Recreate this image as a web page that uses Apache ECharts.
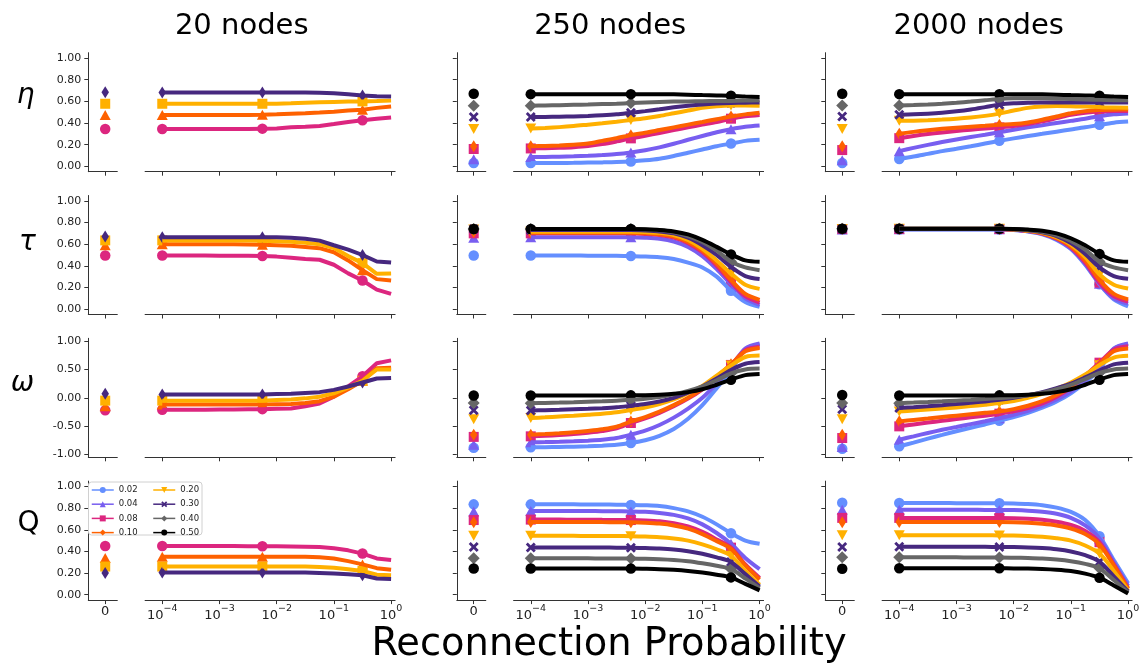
<!DOCTYPE html>
<html><head><meta charset="utf-8">
<script src="https://cdn.jsdelivr.net/npm/echarts@6/dist/echarts.min.js"></script>
<style>html,body{margin:0;padding:0;background:#fff}#c{width:1147px;height:668px}</style>
</head><body><div id="c"></div>
<script>
// ---------------- DATA ----------------
const P = [1e-4,1.778e-4,3.162e-4,5.623e-4,1e-3,1.778e-3,3.162e-3,5.623e-3,1e-2,1.778e-2,3.162e-2,5.623e-2,0.1,0.1778,0.3162,0.5623,1];
const LEVELS = ['0.02','0.04','0.08','0.10','0.20','0.30','0.40','0.50'];
const LEVELS_20 = [2,3,4,5];
const LEVELS_BIG = [0,1,2,3,4,5,6,7];
const COL_TITLES = ['20 nodes','250 nodes','2000 nodes'];
const ROW_LABELS = ['η','τ','ω','Q'];
const X_LABEL = 'Reconnection Probability';
const Y_TICKS_UNIT = [0,0.2,0.4,0.6,0.8,1.0];
const Y_TICKS_OMEGA = [-1,-0.5,0,0.5,1];
const X_TICKS = [1e-4,1e-3,1e-2,1e-1,1];
const X_ZERO_TICK = [0];

const ETA_20 = [
 [0.345,0.345,0.345,0.345,0.345,0.345,0.345,0.348,0.35,0.36,0.365,0.372,0.39,0.41,0.425,0.44,0.45],
 [0.475,0.475,0.475,0.475,0.475,0.475,0.475,0.476,0.48,0.485,0.49,0.497,0.505,0.515,0.523,0.54,0.553],
 [0.578,0.578,0.578,0.578,0.578,0.578,0.578,0.578,0.578,0.582,0.588,0.592,0.595,0.598,0.6,0.603,0.607],
 [0.683,0.683,0.683,0.683,0.683,0.683,0.683,0.683,0.683,0.683,0.683,0.68,0.675,0.665,0.655,0.648,0.645]];
const ETA_20_ZERO = [0.345,0.475,0.578,0.685];
const TAU_20 = [
 [0.495,0.495,0.495,0.495,0.494,0.493,0.492,0.49,0.485,0.475,0.462,0.456,0.41,0.33,0.264,0.18,0.14],
 [0.6,0.6,0.6,0.6,0.6,0.6,0.598,0.595,0.59,0.585,0.575,0.563,0.525,0.45,0.36,0.277,0.265],
 [0.635,0.635,0.635,0.635,0.635,0.635,0.633,0.632,0.628,0.622,0.613,0.6,0.565,0.49,0.425,0.326,0.33],
 [0.665,0.665,0.665,0.665,0.665,0.665,0.665,0.665,0.663,0.66,0.65,0.633,0.59,0.55,0.5,0.44,0.43]];
const TAU_20_ZERO = [0.495,0.59,0.635,0.67];
const OMEGA_20 = [
 [-0.21,-0.21,-0.21,-0.21,-0.205,-0.205,-0.2,-0.2,-0.195,-0.19,-0.15,-0.1,0.02,0.2,0.38,0.61,0.66],
 [-0.12,-0.12,-0.12,-0.12,-0.12,-0.12,-0.12,-0.12,-0.115,-0.11,-0.09,-0.06,0.02,0.15,0.3,0.52,0.53],
 [-0.05,-0.05,-0.05,-0.05,-0.05,-0.05,-0.05,-0.05,-0.04,-0.03,-0.01,0.02,0.08,0.18,0.3,0.5,0.5],
 [0.06,0.06,0.06,0.06,0.06,0.06,0.06,0.06,0.065,0.07,0.085,0.1,0.14,0.2,0.27,0.34,0.35]];
const OMEGA_20_ZERO = [-0.22,-0.15,-0.05,0.07];
const Q_20 = [
 [0.45,0.45,0.45,0.45,0.45,0.45,0.448,0.448,0.447,0.446,0.443,0.44,0.43,0.41,0.38,0.335,0.32],
 [0.35,0.35,0.35,0.35,0.35,0.35,0.35,0.35,0.35,0.35,0.35,0.345,0.335,0.31,0.28,0.245,0.23],
 [0.26,0.26,0.26,0.26,0.26,0.26,0.26,0.26,0.26,0.26,0.26,0.255,0.25,0.235,0.22,0.185,0.18],
 [0.205,0.205,0.205,0.205,0.205,0.205,0.205,0.205,0.205,0.205,0.205,0.2,0.195,0.19,0.18,0.15,0.145]];
const Q_20_ZERO = [0.45,0.34,0.26,0.2];

const ETA_250 = [
 [0.03,0.03,0.031,0.032,0.034,0.036,0.039,0.045,0.055,0.07,0.095,0.125,0.155,0.185,0.21,0.235,0.245],
 [0.086,0.087,0.089,0.092,0.097,0.104,0.113,0.128,0.148,0.175,0.208,0.245,0.28,0.315,0.343,0.365,0.377],
 [0.165,0.167,0.171,0.177,0.187,0.205,0.23,0.258,0.282,0.308,0.335,0.36,0.385,0.41,0.44,0.462,0.475],
 [0.185,0.188,0.193,0.2,0.21,0.235,0.26,0.288,0.31,0.335,0.36,0.385,0.41,0.435,0.46,0.48,0.495],
 [0.35,0.355,0.362,0.372,0.385,0.398,0.412,0.428,0.445,0.465,0.49,0.515,0.54,0.555,0.562,0.562,0.56],
 [0.455,0.456,0.458,0.461,0.465,0.471,0.48,0.495,0.51,0.527,0.545,0.56,0.572,0.58,0.585,0.588,0.59],
 [0.56,0.562,0.565,0.568,0.571,0.575,0.579,0.584,0.589,0.594,0.598,0.6,0.602,0.603,0.604,0.607,0.61],
 [0.667,0.667,0.667,0.667,0.667,0.667,0.667,0.667,0.667,0.667,0.665,0.662,0.658,0.655,0.652,0.645,0.64]];
const ETA_250_ZERO = [0.03,0.065,0.16,0.185,0.345,0.455,0.56,0.67];
const TAU_250 = [
 [0.495,0.495,0.495,0.495,0.494,0.493,0.492,0.49,0.487,0.48,0.463,0.43,0.385,0.3,0.17,0.065,0.02],
 [0.665,0.665,0.665,0.665,0.665,0.665,0.665,0.665,0.66,0.65,0.625,0.575,0.49,0.37,0.23,0.1,0.04],
 [0.7,0.7,0.7,0.7,0.7,0.7,0.7,0.7,0.695,0.685,0.66,0.61,0.525,0.4,0.25,0.12,0.06],
 [0.705,0.705,0.705,0.705,0.705,0.705,0.705,0.705,0.7,0.69,0.67,0.62,0.54,0.42,0.27,0.14,0.086],
 [0.715,0.715,0.715,0.715,0.715,0.715,0.715,0.715,0.712,0.705,0.685,0.64,0.56,0.45,0.33,0.225,0.187],
 [0.73,0.73,0.73,0.73,0.73,0.73,0.73,0.73,0.726,0.718,0.7,0.66,0.59,0.5,0.39,0.305,0.278],
 [0.74,0.74,0.74,0.74,0.74,0.74,0.74,0.74,0.736,0.728,0.71,0.675,0.62,0.54,0.44,0.385,0.36],
 [0.74,0.74,0.74,0.74,0.74,0.74,0.74,0.74,0.738,0.732,0.718,0.69,0.64,0.575,0.505,0.45,0.437]];
const TAU_250_ZERO = [0.495,0.66,0.7,0.71,0.735,0.74,0.74,0.74];
const OMEGA_250 = [
 [-0.874,-0.872,-0.868,-0.862,-0.855,-0.845,-0.83,-0.797,-0.75,-0.67,-0.55,-0.37,-0.13,0.17,0.49,0.85,0.95],
 [-0.786,-0.782,-0.776,-0.768,-0.756,-0.74,-0.71,-0.65,-0.58,-0.48,-0.35,-0.19,0.0,0.25,0.54,0.87,0.96],
 [-0.68,-0.67,-0.657,-0.64,-0.615,-0.585,-0.54,-0.445,-0.365,-0.265,-0.15,-0.015,0.15,0.36,0.58,0.84,0.9],
 [-0.65,-0.64,-0.627,-0.61,-0.585,-0.555,-0.51,-0.42,-0.34,-0.245,-0.13,0.0,0.16,0.37,0.59,0.82,0.88],
 [-0.357,-0.345,-0.33,-0.315,-0.298,-0.28,-0.255,-0.215,-0.17,-0.11,-0.03,0.08,0.21,0.39,0.57,0.72,0.745],
 [-0.223,-0.218,-0.212,-0.204,-0.195,-0.184,-0.168,-0.14,-0.11,-0.065,0.0,0.09,0.2,0.34,0.49,0.6,0.63],
 [-0.094,-0.09,-0.085,-0.078,-0.07,-0.062,-0.052,-0.035,-0.015,0.015,0.06,0.12,0.2,0.31,0.43,0.5,0.515],
 [0.04,0.04,0.04,0.04,0.04,0.04,0.041,0.043,0.047,0.055,0.07,0.1,0.15,0.23,0.32,0.4,0.42]];
const OMEGA_250_ZERO = [-0.88,-0.83,-0.69,-0.65,-0.38,-0.22,-0.09,0.04];
const Q_250 = [
 [0.835,0.835,0.835,0.835,0.834,0.833,0.832,0.83,0.827,0.82,0.8,0.77,0.72,0.65,0.568,0.5,0.47],
 [0.774,0.774,0.774,0.773,0.773,0.772,0.771,0.77,0.766,0.756,0.738,0.705,0.65,0.57,0.47,0.34,0.236],
 [0.694,0.694,0.694,0.693,0.693,0.692,0.691,0.69,0.686,0.678,0.66,0.63,0.58,0.51,0.435,0.28,0.155],
 [0.673,0.673,0.673,0.672,0.672,0.671,0.67,0.669,0.665,0.657,0.64,0.61,0.56,0.495,0.425,0.27,0.14],
 [0.544,0.544,0.544,0.544,0.543,0.543,0.542,0.541,0.538,0.532,0.52,0.5,0.465,0.42,0.36,0.22,0.092],
 [0.437,0.437,0.437,0.437,0.436,0.436,0.435,0.435,0.432,0.427,0.418,0.402,0.378,0.345,0.303,0.19,0.076],
 [0.336,0.336,0.336,0.336,0.336,0.335,0.335,0.334,0.332,0.328,0.321,0.309,0.29,0.267,0.238,0.15,0.061],
 [0.242,0.242,0.242,0.242,0.242,0.242,0.241,0.241,0.239,0.236,0.23,0.22,0.205,0.185,0.16,0.1,0.04]];
const Q_250_ZERO = [0.835,0.77,0.69,0.67,0.545,0.44,0.336,0.242];

const ETA_2000 = [
 [0.068,0.09,0.115,0.14,0.162,0.185,0.21,0.235,0.258,0.28,0.3,0.32,0.34,0.36,0.383,0.403,0.413],
 [0.14,0.17,0.198,0.224,0.248,0.27,0.292,0.315,0.338,0.36,0.38,0.4,0.42,0.44,0.463,0.48,0.488],
 [0.26,0.28,0.298,0.313,0.326,0.338,0.349,0.36,0.372,0.39,0.415,0.445,0.475,0.495,0.507,0.51,0.51],
 [0.3,0.318,0.333,0.346,0.357,0.366,0.374,0.383,0.39,0.405,0.43,0.46,0.49,0.51,0.52,0.523,0.525],
 [0.42,0.422,0.426,0.432,0.44,0.451,0.466,0.487,0.515,0.54,0.553,0.557,0.556,0.552,0.547,0.543,0.542],
 [0.477,0.48,0.486,0.495,0.508,0.525,0.547,0.57,0.582,0.587,0.589,0.59,0.59,0.59,0.59,0.59,0.59],
 [0.563,0.566,0.571,0.578,0.587,0.598,0.61,0.622,0.628,0.63,0.628,0.625,0.622,0.618,0.614,0.611,0.61],
 [0.667,0.667,0.667,0.667,0.667,0.667,0.667,0.667,0.667,0.667,0.665,0.662,0.658,0.655,0.652,0.645,0.64]];
const ETA_2000_ZERO = [0.03,0.055,0.15,0.185,0.345,0.46,0.563,0.67];
const TAU_2000 = [
 [0.736,0.736,0.736,0.736,0.736,0.736,0.736,0.736,0.73,0.718,0.692,0.64,0.555,0.41,0.23,0.09,0.025],
 [0.738,0.738,0.738,0.738,0.738,0.738,0.738,0.738,0.732,0.72,0.695,0.645,0.56,0.42,0.235,0.1,0.05],
 [0.74,0.74,0.74,0.74,0.74,0.74,0.74,0.74,0.734,0.722,0.698,0.65,0.57,0.43,0.245,0.12,0.07],
 [0.74,0.74,0.74,0.74,0.74,0.74,0.74,0.74,0.735,0.723,0.7,0.655,0.58,0.45,0.27,0.14,0.09],
 [0.742,0.742,0.742,0.742,0.742,0.742,0.742,0.742,0.736,0.725,0.705,0.665,0.595,0.48,0.32,0.225,0.19],
 [0.742,0.742,0.742,0.742,0.742,0.742,0.742,0.742,0.737,0.728,0.71,0.675,0.61,0.51,0.385,0.305,0.28],
 [0.742,0.742,0.742,0.742,0.742,0.742,0.742,0.742,0.738,0.73,0.715,0.685,0.63,0.55,0.44,0.385,0.36],
 [0.742,0.742,0.742,0.742,0.742,0.742,0.742,0.742,0.74,0.735,0.725,0.7,0.655,0.59,0.51,0.45,0.437]];
const TAU_2000_ZERO = [0.735,0.735,0.74,0.74,0.74,0.74,0.742,0.742];
const OMEGA_2000 = [
 [-0.856,-0.79,-0.72,-0.655,-0.59,-0.53,-0.47,-0.405,-0.34,-0.265,-0.175,-0.065,0.08,0.27,0.5,0.86,0.95],
 [-0.74,-0.68,-0.62,-0.565,-0.515,-0.465,-0.415,-0.36,-0.3,-0.23,-0.14,-0.03,0.11,0.3,0.54,0.87,0.96],
 [-0.504,-0.47,-0.437,-0.405,-0.375,-0.345,-0.315,-0.28,-0.24,-0.18,-0.1,0.02,0.18,0.39,0.62,0.85,0.91],
 [-0.416,-0.39,-0.365,-0.34,-0.315,-0.29,-0.265,-0.24,-0.2,-0.14,-0.06,0.05,0.2,0.39,0.6,0.82,0.87],
 [-0.24,-0.225,-0.208,-0.19,-0.17,-0.147,-0.122,-0.094,-0.055,0.0,0.07,0.16,0.27,0.41,0.575,0.71,0.74],
 [-0.18,-0.165,-0.148,-0.13,-0.11,-0.088,-0.064,-0.035,0.0,0.045,0.1,0.17,0.25,0.36,0.48,0.59,0.62],
 [-0.094,-0.085,-0.075,-0.063,-0.05,-0.037,-0.022,-0.005,0.015,0.045,0.09,0.15,0.23,0.33,0.44,0.5,0.515],
 [0.04,0.04,0.04,0.04,0.04,0.04,0.041,0.043,0.047,0.055,0.07,0.1,0.15,0.23,0.32,0.4,0.42]];
const OMEGA_2000_ZERO = [-0.9,-0.87,-0.71,-0.65,-0.38,-0.2,-0.09,0.05];
const Q_2000 = [
 [0.847,0.847,0.847,0.847,0.846,0.846,0.845,0.845,0.843,0.838,0.827,0.805,0.765,0.69,0.54,0.32,0.105],
 [0.786,0.786,0.786,0.786,0.785,0.785,0.784,0.784,0.782,0.777,0.767,0.748,0.71,0.64,0.52,0.3,0.08],
 [0.71,0.71,0.71,0.71,0.709,0.709,0.708,0.708,0.706,0.701,0.692,0.675,0.645,0.59,0.485,0.28,0.06],
 [0.673,0.673,0.673,0.673,0.672,0.672,0.671,0.671,0.669,0.664,0.655,0.64,0.612,0.56,0.465,0.27,0.055],
 [0.55,0.55,0.55,0.55,0.55,0.549,0.549,0.548,0.546,0.542,0.535,0.522,0.5,0.455,0.38,0.22,0.04],
 [0.443,0.443,0.443,0.443,0.443,0.442,0.442,0.441,0.44,0.437,0.431,0.42,0.4,0.365,0.305,0.17,0.03],
 [0.345,0.345,0.345,0.345,0.345,0.344,0.344,0.344,0.342,0.339,0.334,0.325,0.31,0.285,0.245,0.135,0.02],
 [0.245,0.245,0.245,0.245,0.245,0.245,0.244,0.244,0.243,0.241,0.237,0.23,0.218,0.195,0.157,0.085,0.01]];
const Q_2000_ZERO = [0.85,0.785,0.71,0.67,0.55,0.44,0.345,0.24];

// ---------------- STYLE ----------------
const FONT = 'DejaVu Sans';
const COLORS = ['#648FFF','#785EF0','#DC267F','#FE6100','#FFB000','#46287F','#666666','#000000'];
const XPATH = 'path://M2,0L5,3L8,0L10,2L7,5L10,8L8,10L5,7L2,10L0,8L3,5L0,2Z';
const SYM = [
  {symbol:'circle', size:10.5},
  {symbol:'triangle', size:[11,10]},
  {symbol:'rect', size:10},
  {symbol:'diamond', size:[7.5,12]},
  {symbol:'path://M0,0L10,0L5,10Z', size:[11,10]},
  {symbol:XPATH, size:10},
  {symbol:'diamond', size:12},
  {symbol:'circle', size:10.5}
];
const MARK_IDX = [0,7,14];
const ZERO_LEFT = [88.3, 456.8, 825.3];
const LOG_LEFT = [145.1, 513.6, 882.1];
const ROW_TOP = [52.7, 195.5, 338.3, 481.1];
const PANEL_H = 119, ZERO_W = 29, LOG_W = 250;
const X_MIN = Math.pow(10,-4.3), X_MAX = Math.pow(10,0.07);

const grid=[], xAxis=[], yAxis=[], series=[];
const axLine = {show:true, onZero:false, lineStyle:{color:'#333', width:1}};
const tick = v => ({show:true, customValues:v, length:4, lineStyle:{color:'#333', width:1}});

function addPanel(row, col, vals, zeros, lvls){
  const isOmega = row===2;
  const yMin = isOmega ? -1.05 : -0.05, yMax = 1.05;
  const yTicks = isOmega ? Y_TICKS_OMEGA : Y_TICKS_UNIT;
  const bottom = row===3;
  const g0 = grid.length;
  grid.push({left:ZERO_LEFT[col], top:ROW_TOP[row], width:ZERO_W, height:PANEL_H});
  grid.push({left:LOG_LEFT[col], top:ROW_TOP[row], width:LOG_W, height:PANEL_H});
  xAxis.push({type:'value', gridIndex:g0, min:-1.4, max:1, axisLine:axLine, axisTick:tick(X_ZERO_TICK),
    axisLabel:{show:bottom, customValues:X_ZERO_TICK, margin:5, fontFamily:FONT, fontSize:13, color:'#222', formatter:v=>String(v)},
    splitLine:{show:false}});
  yAxis.push({type:'value', gridIndex:g0, min:yMin, max:yMax, axisLine:axLine, axisTick:tick(yTicks),
    axisLabel:{show:col===0, customValues:yTicks, margin:7, fontFamily:FONT, fontSize:11, color:'#222', formatter:v=>v.toFixed(2)},
    splitLine:{show:false}});
  xAxis.push({type:'log', logBase:10, gridIndex:g0+1, min:X_MIN, max:X_MAX, axisLine:axLine, axisTick:tick(X_TICKS),
    minorTick:{show:false}, splitLine:{show:false},
    axisLabel:{show:bottom, customValues:X_TICKS, margin:3, align:'center',
      showMinLabel:true, showMaxLabel:true, hideOverlap:false,
      formatter:v=>{const e=Math.round(Math.log10(v)); return '{b|10}{s|'+(e<0?'\u2212'+(-e):e)+'}';},
      rich:{b:{fontSize:13, fontFamily:FONT, color:'#222', lineHeight:19, verticalAlign:'bottom'},
            s:{fontSize:9.5, fontFamily:FONT, color:'#222', lineHeight:9, verticalAlign:'top'}}}});
  yAxis.push({type:'value', gridIndex:g0+1, min:yMin, max:yMax, show:false, splitLine:{show:false}});
  lvls.forEach((lv,k)=>{
    const color = COLORS[lv], s = SYM[k];
    series.push({type:'line', name:LEVELS[lv], xAxisIndex:g0+1, yAxisIndex:g0+1,
      data:P.map((p,i)=>[p, vals[k][i]]), symbol:s.symbol, symbolSize:s.size, showSymbol:false,
      smooth: col===0 ? false : 0.3, lineStyle:{color, width:4}, itemStyle:{color}, silent:true});
    series.push({type:'scatter', xAxisIndex:g0+1, yAxisIndex:g0+1,
      data:MARK_IDX.map(i=>[P[i], vals[k][i]]), symbol:s.symbol, symbolSize:s.size, itemStyle:{color, opacity:1}, silent:true});
    series.push({type:'scatter', xAxisIndex:g0, yAxisIndex:g0,
      data:[[0, zeros[k]]], symbol:s.symbol, symbolSize:s.size, itemStyle:{color, opacity:1}, silent:true});
  });
}

const PANELS = [
  [0,1,ETA_250,ETA_250_ZERO,LEVELS_BIG],[1,1,TAU_250,TAU_250_ZERO,LEVELS_BIG],
  [2,1,OMEGA_250,OMEGA_250_ZERO,LEVELS_BIG],[3,1,Q_250,Q_250_ZERO,LEVELS_BIG],
  [0,2,ETA_2000,ETA_2000_ZERO,LEVELS_BIG],[1,2,TAU_2000,TAU_2000_ZERO,LEVELS_BIG],
  [2,2,OMEGA_2000,OMEGA_2000_ZERO,LEVELS_BIG],[3,2,Q_2000,Q_2000_ZERO,LEVELS_BIG],
  [0,0,ETA_20,ETA_20_ZERO,LEVELS_20],[1,0,TAU_20,TAU_20_ZERO,LEVELS_20],
  [2,0,OMEGA_20,OMEGA_20_ZERO,LEVELS_20],[3,0,Q_20,Q_20_ZERO,LEVELS_20]
];
PANELS.forEach(p=>addPanel(...p));

const TITLE_X = [241.7, 610.2, 978.7];
const ROW_X = [25.5, 27.5, 22.5, 28.5];
const ROW_Y = [96, 243, 384, 524];
const graphics = [];
COL_TITLES.forEach((t,i)=>graphics.push({type:'text', x:TITLE_X[i], y:26,
  style:{text:t, font:'29px "DejaVu Sans"', fill:'#000', align:'center', verticalAlign:'middle', textAlign:'center', textVerticalAlign:'middle'}}));
ROW_LABELS.forEach((t,i)=>graphics.push({type:'text', x:ROW_X[i], y:ROW_Y[i],
  style:{text:t, font:(i<3?'italic ':'')+'28px "DejaVu Sans"', fill:'#000', align:'center', verticalAlign:'middle', textAlign:'center', textVerticalAlign:'middle'}}));
graphics.push({type:'text', x:609, y:645,
  style:{text:X_LABEL, font:'38.4px "DejaVu Sans"', fill:'#000', align:'center', verticalAlign:'middle', textAlign:'center', textVerticalAlign:'middle'}});
graphics.push({type:'rect', z:3, shape:{x:88.5, y:482, width:113.5, height:53, r:3},
  style:{fill:'rgba(255,255,255,0.85)', stroke:'#d0d0d0', lineWidth:1}});

const legendBase = {orient:'vertical', top:485.5, itemWidth:22, itemHeight:7.5, itemGap:5.2, padding:0,
  textStyle:{fontSize:8.5, fontFamily:FONT, color:'#222', lineHeight:7.5}, lineStyle:{width:1.5}, selectedMode:false, z:5};
const chart = echarts.init(document.getElementById('c'), null, {renderer:'canvas', width:1147, height:668});
chart.setOption({
  animation:false,
  backgroundColor:'#fff',
  grid, xAxis, yAxis, series,
  legend:[Object.assign({}, legendBase, {left:91, data:LEVELS.slice(0,4)}),
          Object.assign({}, legendBase, {left:152.5, data:LEVELS.slice(4)})],
  graphic:{elements:graphics}
});
</script></body></html>
